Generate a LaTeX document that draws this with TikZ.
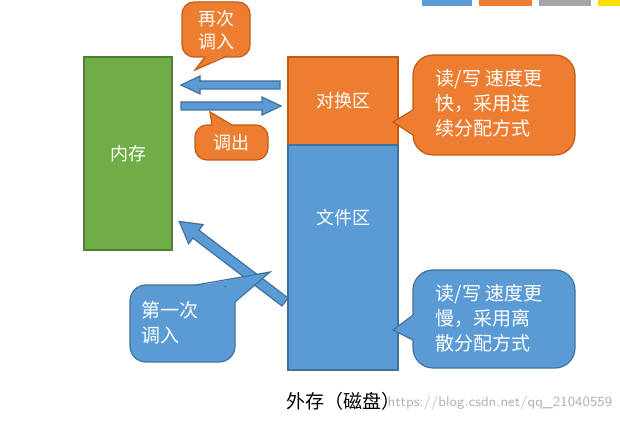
\documentclass[tikz,border=0pt]{standalone}
\usepackage{fontspec}
\setmainfont{Noto Sans CJK SC}
\begin{document}
\begin{tikzpicture}[x=0.5pt,y=-0.5pt,
  every node/.style={inner sep=0pt,outer sep=0pt},
  wtxt/.style={text=white,font=\fontsize{9}{11.5}\selectfont,align=center},
  btxt/.style={text=white,font=\fontsize{9.5}{12.5}\selectfont,align=left},
  org/.style={fill=orgc,draw=orgd,line width=0.6pt},
  blu/.style={fill=bluc,draw=blud,line width=0.6pt},
  arr/.style={fill=bluc,draw=blud,line width=0.6pt,line join=miter}]
\definecolor{orgc}{HTML}{ED7D31}\definecolor{orgd}{HTML}{C55A11}
\definecolor{bluc}{HTML}{5B9BD5}\definecolor{blud}{HTML}{41719C}
\definecolor{grnc}{HTML}{70AD47}\definecolor{grnd}{HTML}{507E32}
\useasboundingbox (0,0) rectangle (620,421);
% top strip
\fill[bluc] (422,0) rectangle (472,6);
\fill[orgc] (479,0) rectangle (532,6);
\fill[gray!70] (539,0) rectangle (591,6);
\fill[yellow!80!orange] (598,0) rectangle (620,6);
% memory
\node[draw=grnd,fill=grnc,line width=0.6pt,minimum width=44pt,minimum height=96.5pt,anchor=north west] (mem) at (84,57) {};
\node[wtxt] (memt) at (mem.center) {内存};
% swap & file
\node[org,minimum width=55pt,minimum height=44pt,anchor=north west] (swap) at (288,57) {};
\node[wtxt] at (swap.center) {对换区};
\node[blu,minimum width=55pt,minimum height=112.5pt,anchor=north west] (file) at (288,145) {};
\node[wtxt] at (343,218) {文件区};
\node[font=\fontsize{9.5}{11}\selectfont] (ext) at (343,401) {外存（磁盘）};
% horizontal arrows
\draw[arr] (280,81)--(200,81)--(200,76)--(181,85)--(200,94)--(200,89)--(280,89)--cycle;
\draw[arr] (181,102)--(262,102)--(262,97)--(281,106)--(262,115)--(262,110)--(181,110)--cycle;
% diagonal arrow
\begin{scope}[shift={(285,302)},rotate=142.7]
\draw[arr] (0,-5)--(112,-5)--(112,-12)--(133,0)--(112,12)--(112,5)--(0,5)--cycle;
\end{scope}
% callouts
\draw[org,rounded corners=6pt] (182,2) rectangle (250,57);
\fill[orgc] (205,56)--(195,70)--(225,56)--cycle;
\draw[orgd,line width=0.6pt] (205,57)--(195,70)--(225,57);
\node[wtxt] (c1) at (216,30) {再次\\调入};
\draw[org,rounded corners=6pt] (195,125) rectangle (268,160);
\fill[orgc] (212,126)--(210,112)--(232,126)--cycle;
\draw[orgd,line width=0.6pt] (212,125)--(210,112)--(232,125);
\node[wtxt] (c2) at (231,143) {调出};
\draw[blu,rounded corners=8pt] (130,285) rectangle (235,362);
\fill[bluc] (196,286)--(270,272)--(234,302)--(226,286)--cycle;
\draw[blud,line width=0.6pt] (196,285)--(270,272)--(235,302);
\node[btxt] (c3) at (170,323) {第一次\\调入};
\draw[org,rounded corners=10pt] (413,55) rectangle (575,155);
\fill[orgc] (414,110)--(393,122)--(414,135)--cycle;
\draw[orgd,line width=0.6pt] (413,110)--(393,122)--(413,135);
\node[btxt] (c4) at (489,103) {读/写 速度更\\快，采用连\\续分配方式};
\draw[blu,rounded corners=10pt] (413,270) rectangle (575,368);
\fill[bluc] (414,315)--(393,330)--(414,340)--cycle;
\draw[blud,line width=0.6pt] (413,315)--(393,330)--(413,340);
\node[btxt] (c5) at (489,318) {读/写 速度更\\慢，采用离\\散分配方式};
\node[text=gray!60,font=\fontsize{7}{8}\selectfont\sffamily] (wm) at (500,403) {https://blog.csdn.net/qq\_21040559};
\end{tikzpicture}
\end{document}
